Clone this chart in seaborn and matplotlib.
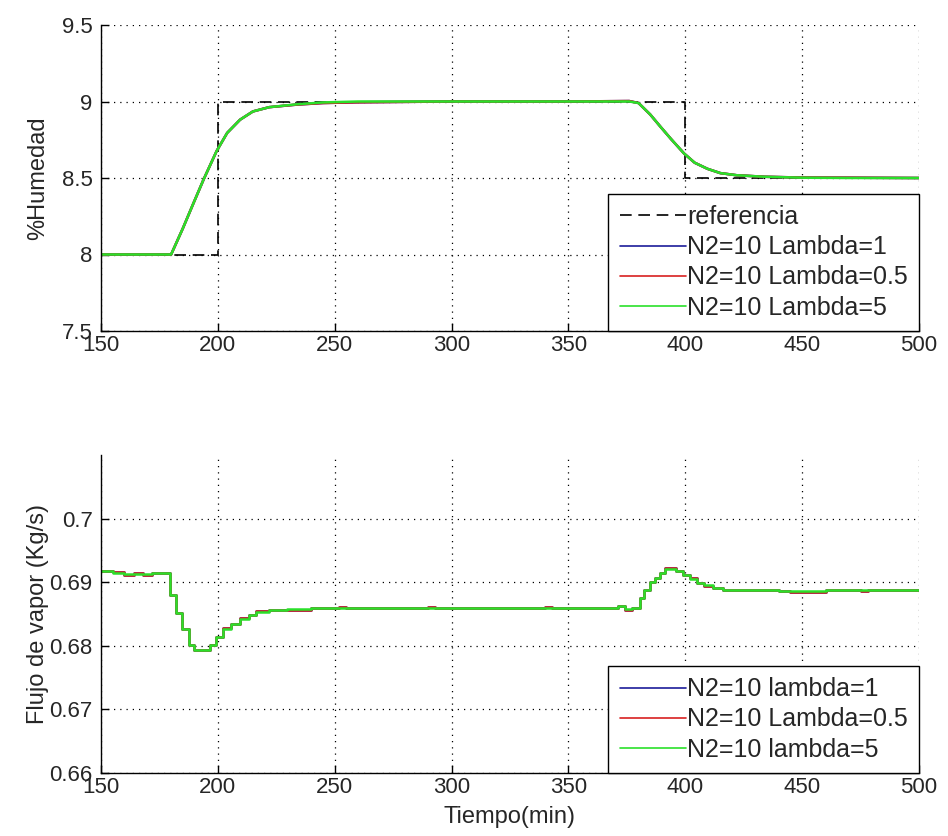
import numpy as np
import pandas as pd
import matplotlib
matplotlib.use("Agg")
import matplotlib.pyplot as plt
import seaborn as sns

# ---------------- data ----------------
# Top: humidity reference
t_ref = [150, 200, 200, 400, 400, 500]
v_ref = [8.0, 8.0, 9.0, 9.0, 8.5, 8.5]

# Top: responses
t_hum = [150, 180, 185, 189.5, 194, 199.5, 204, 209.5, 215, 222, 234, 245, 260,
         300, 350, 376, 380, 385, 389.5, 394, 399.5, 404, 409.5, 415, 422, 434,
         450, 470, 500]
v_hum_l5 = [8.0, 8.0, 8.17, 8.333, 8.494, 8.677, 8.795, 8.881, 8.935, 8.963, 8.982,
            8.994, 9.0, 9.0, 9.0, 9.0, 8.99, 8.915, 8.833, 8.753, 8.66, 8.60, 8.56,
            8.532, 8.518, 8.508, 8.502, 8.5, 8.5]
v_hum_l05 = [8.0, 8.0, 8.17, 8.333, 8.494, 8.677, 8.795, 8.881, 8.935, 8.963, 8.980,
             8.990, 8.995, 9.0, 9.0, 9.003, 8.99, 8.915, 8.833, 8.753, 8.66, 8.60, 8.56,
             8.532, 8.518, 8.508, 8.503, 8.502, 8.5]
v_hum_l1 = v_hum_l05

# Bottom: steam flow (staircase, value held until next time)
t_flu = [150, 155, 160, 164, 168, 172, 179.5, 182, 184.5, 187.5, 190, 196.5, 199,
         202, 205.5, 209.5, 213.5, 216.5, 222, 229.5, 240, 252, 255, 268, 271, 290,
         293, 318, 321, 340, 343, 362, 365, 371, 374, 377, 380.5, 382.5, 385, 387,
         389, 391.5, 396, 399, 402, 405, 408, 412, 416, 422, 440, 445, 460, 475,
         478, 492, 495, 500]
v_flu_l5 = [0.6917, 0.6915, 0.6913, 0.6913, 0.6913, 0.6914, 0.6880, 0.6851, 0.6827,
            0.6801, 0.6793, 0.6801, 0.6814, 0.6827, 0.6835, 0.6842, 0.6848, 0.6853,
            0.6857, 0.6858, 0.6859, 0.6860, 0.6860, 0.6860, 0.6860, 0.6860, 0.6860,
            0.6860, 0.6860, 0.6860, 0.6860, 0.6860, 0.6860, 0.6862, 0.6858, 0.6860,
            0.6875, 0.6888, 0.6900, 0.6907, 0.6915, 0.6921, 0.6917, 0.6912, 0.6905,
            0.6899, 0.6895, 0.6891, 0.6888, 0.6887, 0.6886, 0.6886, 0.6887, 0.6887,
            0.6887, 0.6888, 0.6888, 0.6888]
v_flu_l05 = [0.6917, 0.6916, 0.6912, 0.6914, 0.6912, 0.6914, 0.6880, 0.6851,
             0.6827, 0.6801, 0.6793, 0.6801, 0.6814, 0.6828, 0.6834, 0.6843,
             0.6848, 0.6854, 0.6857, 0.6857, 0.6859, 0.6861, 0.6860, 0.6859,
             0.6860, 0.6861, 0.6860, 0.6859, 0.6860, 0.6861, 0.6860, 0.6859,
             0.6860, 0.6863, 0.6857, 0.6860, 0.6875, 0.6888, 0.6900, 0.6907,
             0.6915, 0.6922, 0.6918, 0.6912, 0.6906, 0.6899, 0.6894, 0.6891,
             0.6887, 0.6888, 0.6886, 0.6885, 0.6887, 0.6886, 0.6887, 0.6887,
             0.6888, 0.6888]
v_flu_l1 = v_flu_l05

x_ticks = [150, 200, 250, 300, 350, 400, 450, 500]
y_ticks_top = [7.5, 8, 8.5, 9, 9.5]
y_ticks_bot = [0.66, 0.67, 0.68, 0.69, 0.70]

c_blue = "#1c1c9a"
c_red = "#d82020"
c_green = "#2ae02a"

# ---------------- style ----------------
sns.set_style("ticks")
plt.rcParams["font.family"] = ["Liberation Sans", "DejaVu Sans"]
plt.rcParams["xtick.direction"] = "in"
plt.rcParams["ytick.direction"] = "in"

fig = plt.figure(figsize=(9.48, 8.36), dpi=100)
ax1 = fig.add_axes([101 / 948, 1 - 331 / 836, 818 / 948, 306 / 836])
ax2 = fig.add_axes([101 / 948, 1 - 773 / 836, 818 / 948, 318 / 836])

lw = 1.8
txt_col = "#262626"


def style_axes(ax, yticks, ylim):
    ax.set_xlim(150, 500)
    ax.set_ylim(*ylim)
    ax.set_xticks(x_ticks)
    ax.set_yticks(yticks)
    ax.grid(True, color="black", linestyle=(0, (1, 4)), linewidth=0.9)
    for s in ["top", "right"]:
        ax.spines[s].set_visible(False)
    for s in ["left", "bottom"]:
        ax.spines[s].set_color("black")
        ax.spines[s].set_linewidth(1.0)
    ax.tick_params(axis="both", length=6, width=1, labelsize=16,
                   colors="black", labelcolor=txt_col)
    ax.tick_params(axis="y", pad=6)
    ax.tick_params(axis="x", pad=3)


# Top
sns.lineplot(x=t_ref, y=v_ref, ax=ax1, color="black", sort=False, estimator=None,
             linewidth=1.2, linestyle=(0, (7, 4)), label="referencia")
sns.lineplot(x=t_hum, y=v_hum_l1, ax=ax1, color=c_blue, sort=False, estimator=None,
             linewidth=lw, label="N2=10 Lambda=1")
sns.lineplot(x=t_hum, y=v_hum_l05, ax=ax1, color=c_red, sort=False, estimator=None,
             linewidth=lw, label="N2=10 Lambda=0.5")
sns.lineplot(x=t_hum, y=v_hum_l5, ax=ax1, color=c_green, sort=False, estimator=None,
             linewidth=lw, label="N2=10 Lambda=5")
style_axes(ax1, y_ticks_top, (7.5, 9.5))
ax1.set_yticklabels(["7.5", "8", "8.5", "9", "9.5"])
ax1.set_xlabel("")
ax1.set_ylabel("%Humedad", fontsize=17, color=txt_col)

# Bottom
sns.lineplot(x=t_flu, y=v_flu_l1, ax=ax2, color=c_blue, sort=False, estimator=None,
             linewidth=lw, drawstyle="steps-post", label="N2=10 lambda=1")
sns.lineplot(x=t_flu, y=v_flu_l05, ax=ax2, color=c_red, sort=False, estimator=None,
             linewidth=lw, drawstyle="steps-post", label="N2=10 Lambda=0.5")
sns.lineplot(x=t_flu, y=v_flu_l5, ax=ax2, color=c_green, sort=False, estimator=None,
             linewidth=lw, drawstyle="steps-post", label="N2=10 lambda=5")
style_axes(ax2, y_ticks_bot, (0.66, 0.71))
ax2.set_yticklabels(["0.66", "0.67", "0.68", "0.69", "0.7"])
ax2.set_xlabel("Tiempo(min)", fontsize=17, color=txt_col, labelpad=6)
ax2.set_ylabel("Flujo de vapor (Kg/s)", fontsize=17, color=txt_col)

for ax in (ax1, ax2):
    ax.yaxis.set_label_coords(-0.064, 0.5)
    leg = ax.legend(loc="lower right", borderaxespad=0, fancybox=False,
                    edgecolor="black", framealpha=1, fontsize=18,
                    handlelength=2.65, handletextpad=0.05, labelspacing=0.25,
                    borderpad=0.45)
    leg.get_frame().set_linewidth(1.0)
    for line in leg.get_lines():
        line.set_linewidth(1.2)
    for txt in leg.get_texts():
        txt.set_color(txt_col)

fig.savefig("out.png", dpi=100, facecolor="white")
